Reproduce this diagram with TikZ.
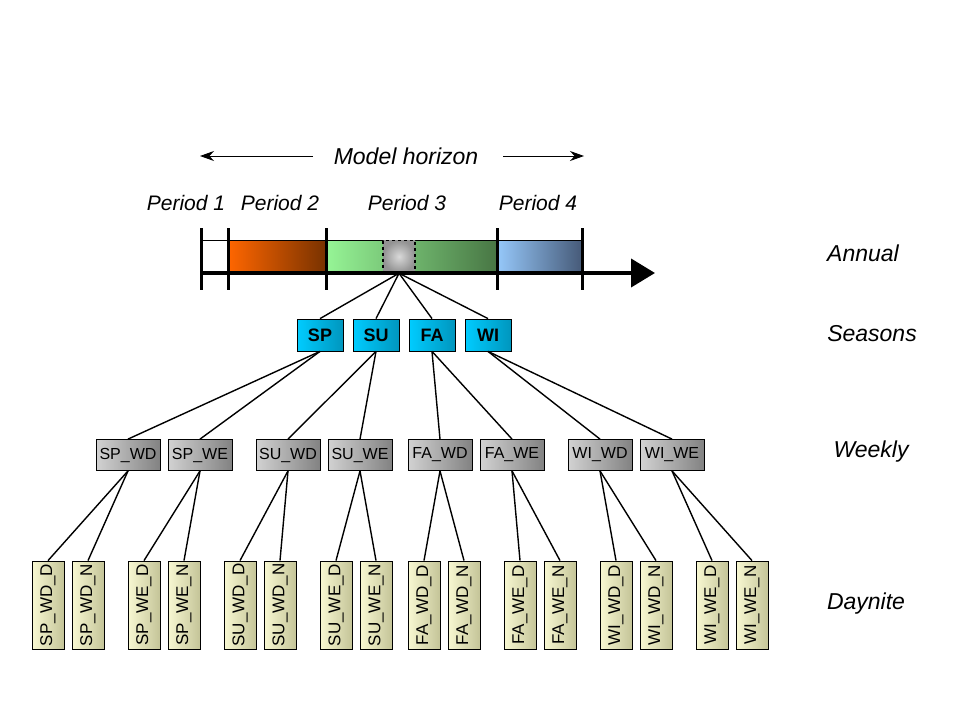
\documentclass[tikz,border=0pt]{standalone}
\usepackage{fontspec}
\setmainfont{Liberation Sans}
\usepackage{tikz}
\usetikzlibrary{arrows.meta}

\definecolor{ptwoa}{RGB}{255,102,0}
\definecolor{ptwob}{RGB}{120,50,0}
\definecolor{pthreea}{RGB}{150,245,150}
\definecolor{pthreeb}{RGB}{72,118,68}
\definecolor{pfoura}{RGB}{150,200,250}
\definecolor{pfourb}{RGB}{70,90,120}
\definecolor{seasa}{RGB}{0,204,255}
\definecolor{seasb}{RGB}{0,150,190}
\definecolor{weeka}{RGB}{210,210,210}
\definecolor{weekb}{RGB}{130,130,130}
\definecolor{daya}{RGB}{248,248,210}
\definecolor{dayb}{RGB}{196,196,152}

\newcommand{\daytxt}[1]{\rotatebox{90}{#1}}

\tikzset{
	seasonbox/.style={draw, line width=0.8pt, left color=seasa, right color=seasb,
		minimum width=46pt, minimum height=32pt, inner sep=0pt,
		font=\fontsize{18}{20}\selectfont\bfseries},
	weekbox/.style={draw, line width=0.8pt, left color=weeka, right color=weekb,
		minimum width=64pt, minimum height=31pt, inner sep=0pt,
		font=\fontsize{16}{18}\selectfont},
	daybox/.style={draw, line width=0.8pt, left color=daya, right color=dayb,
		minimum width=32pt, minimum height=88pt, inner sep=0pt,
		font=\fontsize{17}{19}\selectfont},
	levellabel/.style={font=\fontsize{23}{26}\selectfont\itshape},
	link/.style={line width=1.4pt},
}

\begin{document}
\begin{tikzpicture}[x=1pt, y=-1pt]
	\useasboundingbox (0,0) rectangle (960,720);
	
	%model horizon
	\node (horizon) at (406,156) {\fontsize{23}{26}\selectfont\itshape Model horizon};
	\draw[line width=0.9pt, -{Stealth[length=14pt,width=10pt]}] (313,156) -- (200,156);
	\draw[line width=0.9pt, -{Stealth[length=14pt,width=10pt]}] (503,156) -- (584,156);
	
	%period labels
	\node (pone)   at (186,203) {\fontsize{21}{24}\selectfont\itshape Period 1};
	\node (ptwo)   at (280,203) {\fontsize{21}{24}\selectfont\itshape Period 2};
	\node (pthree) at (407,203) {\fontsize{21}{24}\selectfont\itshape Period 3};
	\node (pfour)  at (538,203) {\fontsize{21}{24}\selectfont\itshape Period 4};
	
	%periods
	\shade[left color=ptwoa, right color=ptwob] (228,240) rectangle (326,273);
	\shade[left color=pthreea, right color=pthreeb] (326,240) rectangle (497,273);
	\shade[left color=pfoura, right color=pfourb] (497,240) rectangle (582,273);
	\draw[line width=0.9pt] (201,240) -- (582,240);
	\node[draw, dashed, line width=1.5pt, inner color=gray!30, outer color=gray!85,
		minimum size=32pt, inner sep=0pt] (slice) at (399,256.5) {};
	
	%axis
	\draw[line width=4pt, -{Triangle[length=24pt,width=28pt]}] (201,273) -- (655,273);
	\draw[line width=3pt] (201,228) -- (201,290);
	\draw[line width=3pt] (228,228) -- (228,290);
	\draw[line width=3pt] (326,228) -- (326,290);
	\draw[line width=3pt] (497,228) -- (497,290);
	\draw[line width=3pt] (582,228) -- (582,290);
	
	%seasons
	\node[seasonbox] (SP) at (320,335) {SP};
	\node[seasonbox] (SU) at (376,335) {SU};
	\node[seasonbox] (FA) at (432,335) {FA};
	\node[seasonbox] (WI) at (488,335) {WI};
	\draw[link] (slice.south) -- (SP.north);
	\draw[link] (slice.south) -- (SU.north);
	\draw[link] (slice.south) -- (FA.north);
	\draw[link] (slice.south) -- (WI.north);
	
	%weekly
	\node[weekbox] (spwd) at (128,455) {SP\_WD};
	\node[weekbox] (spwe) at (200,455) {SP\_WE};
	\node[weekbox] (suwd) at (288,455) {SU\_WD};
	\node[weekbox] (suwe) at (360,455) {SU\_WE};
	\node[weekbox] (fawd) at (440,455) {FA\_WD};
	\node[weekbox] (fawe) at (512,455) {FA\_WE};
	\node[weekbox] (wiwd) at (600,455) {WI\_WD};
	\node[weekbox] (wiwe) at (672,455) {WI\_WE};
	\draw[link] (SP.south) -- (spwd.north);
	\draw[link] (SP.south) -- (spwe.north);
	\draw[link] (SU.south) -- (suwd.north);
	\draw[link] (SU.south) -- (suwe.north);
	\draw[link] (FA.south) -- (fawd.north);
	\draw[link] (FA.south) -- (fawe.north);
	\draw[link] (WI.south) -- (wiwd.north);
	\draw[link] (WI.south) -- (wiwe.north);
	
	%daynite
	\node[daybox] (spwdd) at (48,605)  {\daytxt{SP\_WD\_D}};
	\node[daybox] (spwdn) at (88,605)  {\daytxt{SP\_WD\_N}};
	\node[daybox] (spwed) at (144,605) {\daytxt{SP\_WE\_D}};
	\node[daybox] (spwen) at (184,605) {\daytxt{SP\_WE\_N}};
	\node[daybox] (suwdd) at (240,605) {\daytxt{SU\_WD\_D}};
	\node[daybox] (suwdn) at (280,605) {\daytxt{SU\_WD\_N}};
	\node[daybox] (suwed) at (336,605) {\daytxt{SU\_WE\_D}};
	\node[daybox] (suwen) at (376,605) {\daytxt{SU\_WE\_N}};
	\node[daybox] (fawdd) at (424,605) {\daytxt{FA\_WD\_D}};
	\node[daybox] (fawdn) at (464,605) {\daytxt{FA\_WD\_N}};
	\node[daybox] (fawed) at (520,605) {\daytxt{FA\_WE\_D}};
	\node[daybox] (fawen) at (560,605) {\daytxt{FA\_WE\_N}};
	\node[daybox] (wiwdd) at (616,605) {\daytxt{WI\_WD\_D}};
	\node[daybox] (wiwdn) at (656,605) {\daytxt{WI\_WD\_N}};
	\node[daybox] (wiwed) at (712,605) {\daytxt{WI\_WE\_D}};
	\node[daybox] (wiwen) at (752,605) {\daytxt{WI\_WE\_N}};
	\draw[link] (spwd.south) -- (spwdd.north);
	\draw[link] (spwd.south) -- (spwdn.north);
	\draw[link] (spwe.south) -- (spwed.north);
	\draw[link] (spwe.south) -- (spwen.north);
	\draw[link] (suwd.south) -- (suwdd.north);
	\draw[link] (suwd.south) -- (suwdn.north);
	\draw[link] (suwe.south) -- (suwed.north);
	\draw[link] (suwe.south) -- (suwen.north);
	\draw[link] (fawd.south) -- (fawdd.north);
	\draw[link] (fawd.south) -- (fawdn.north);
	\draw[link] (fawe.south) -- (fawed.north);
	\draw[link] (fawe.south) -- (fawen.north);
	\draw[link] (wiwd.south) -- (wiwdd.north);
	\draw[link] (wiwd.south) -- (wiwdn.north);
	\draw[link] (wiwe.south) -- (wiwed.north);
	\draw[link] (wiwe.south) -- (wiwen.north);
	
	%level labels
	\node[levellabel] (annual)  at (863,253) {Annual};
	\node[levellabel] (seasons) at (872,334) {Seasons};
	\node[levellabel] (weekly)  at (871,452) {Weekly};
	\node[levellabel] (daynite) at (866,604) {Daynite};
\end{tikzpicture}
\end{document}
